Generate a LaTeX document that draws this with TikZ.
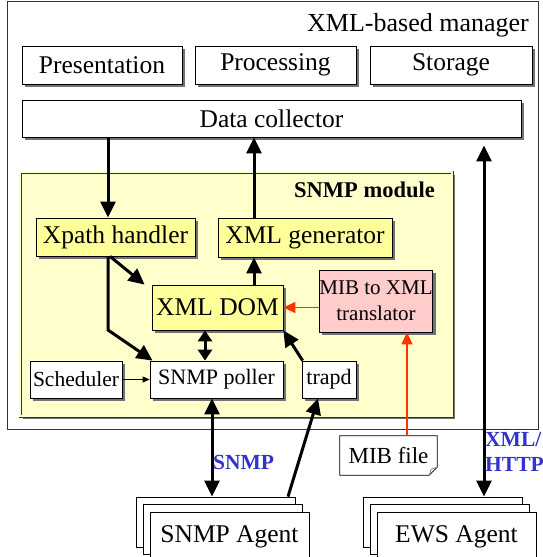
\documentclass[tikz,border=0pt]{standalone}
\usepackage{fontspec}
\setmainfont{Liberation Serif}
\usetikzlibrary{arrows.meta,shadows}

\definecolor{modfill}{HTML}{FFFFCC}
\definecolor{boxfill}{HTML}{FFFF99}
\definecolor{pinkfill}{HTML}{FFCCCC}
\definecolor{mibred}{HTML}{FF3300}
\definecolor{lblue}{HTML}{3333CC}

\tikzset{
  shad/.style={preaction={fill=black!55, transform canvas={shift={(3pt,-3pt)}}}},
  blk/.style={draw, fill=white, line width=0.8pt, inner sep=0pt, shad,
    font=\fontsize{25.5}{27}\selectfont},
  ybox/.style={blk, fill=boxfill},
  sbox/.style={blk, font=\fontsize{22}{24}\selectfont},
  agent/.style={draw, fill=white, line width=0.8pt, inner sep=0pt,
    font=\fontsize{25.5}{27}\selectfont,
    double copy shadow={shadow xshift=-7pt, shadow yshift=7.5pt}},
  arr/.style={line width=3pt, -{Triangle[length=16pt,width=15pt]}},
  darr/.style={line width=3pt, {Triangle[length=16pt,width=15pt]}-{Triangle[length=16pt,width=15pt]}},
  sdarr/.style={line width=3pt, {Triangle[length=11pt,width=14pt]}-{Triangle[length=11pt,width=14pt]}},
  redarr/.style={mibred, line width=1.5pt, -{Triangle[length=12pt,width=11pt]}},
  lbl/.style={lblue, font=\fontsize{21.5}{25}\selectfont\bfseries, inner sep=0pt}
}

\begin{document}
\begin{tikzpicture}[x=1pt, y=-1pt]
        \useasboundingbox (0,0) rectangle (543,557);

        % manager
        \draw[black!80, line width=0.8pt] (7,1) rectangle (538,429);
        \node[anchor=east, inner sep=0pt, font=\fontsize{26}{28}\selectfont] at (529,25)(mgr){XML-based manager};

        \node[blk, minimum width=160pt, minimum height=38pt] at (102,65)(pres){Presentation};
        \node[blk, minimum width=161pt, minimum height=38pt] at (275.5,65)(proc){Processing};
        \node[blk, minimum width=162pt, minimum height=38pt] at (451,65)(stor){Storage};
        \node[blk, minimum width=499pt, minimum height=37pt] at (271.5,118.5)(dc){Data collector};

        % SNMP module
        \node[draw=black!80, fill=modfill, line width=0.7pt, double=modfill, double distance=1.6pt,
          minimum width=432pt, minimum height=244pt, shad]
          at (236,294)(mod){};
        \node[anchor=east, inner sep=0pt, font=\fontsize{22.5}{24}\selectfont\bfseries] at (435,190)(modname){SNMP module};

        \node[ybox, minimum width=159pt, minimum height=38pt] at (115.5,237)(xpath){Xpath handler};
        \node[ybox, minimum width=174pt, minimum height=39pt] at (305,237.5)(xmlgen){XML generator};
        \node[ybox, minimum width=131pt, minimum height=45pt] at (217.5,307.5)(dom){XML DOM};
        \node[sbox, fill=pinkfill, minimum width=104pt, minimum height=62pt, align=center,
          font=\fontsize{21}{26}\selectfont] at (376,301)(mib2xml){MIB to XML\\translator};
        \node[sbox, minimum width=92pt, minimum height=37pt, font=\fontsize{21.5}{24}\selectfont] at (76,379.5)(sched){Scheduler};
        \node[sbox, minimum width=133pt, minimum height=37pt] at (216.5,379.5)(poller){SNMP poller};
        \node[sbox, minimum width=54pt, minimum height=37pt] at (329,379.5)(trapd){trapd};

        % MIB file with folded corner
        \node[inner sep=0pt, minimum width=97pt, minimum height=39pt, font=\fontsize{23}{25}\selectfont]
          at (388.5,455.5)(mibfile){MIB file};
        \draw[line width=0.8pt, fill=white] (mibfile.north west) -- (mibfile.north east)
          -- ([yshift=8pt]mibfile.south east) -- ([xshift=-8pt]mibfile.south east)
          -- (mibfile.south west) -- cycle;
        \draw[gray, line width=0.8pt] ([xshift=-8pt]mibfile.south east) -- ([xshift=-6pt, yshift=6pt]mibfile.south east)
          -- ([yshift=8pt]mibfile.south east);
        \node[inner sep=0pt, font=\fontsize{23}{25}\selectfont] at (mibfile){MIB file};

        % agents
        \node[agent, minimum width=159pt, minimum height=50pt] at (229.5,537)(snmpag){SNMP Agent};
        \node[agent, minimum width=159pt, minimum height=50pt] at (456.5,537)(ewsag){EWS Agent};

        % connectors
        \draw[arr] (dc.south -| 108,0) -- (xpath.north -| 108,0);
        \draw[arr] (xmlgen.north -| 254,0) -- (dc.south -| 254,0);
        \draw[darr] ([yshift=15pt]ewsag.north -| 484,0) -- ([yshift=-8pt]dc.south -| 484,0);
        \draw[arr] (xpath.south -| 110,0) -- ([xshift=-7pt]dom.north west);
        \draw[arr] (xpath.south -| 108,0) -- (108,330) -- ([xshift=3pt]poller.north west);
        \draw[sdarr] (dom.south -| 205,0) -- (poller.north -| 205,0);
        \draw[arr] (dom.north -| 254,0) -- (xmlgen.south -| 254,0);
        \draw[arr] ([xshift=1pt]trapd.north west) -- (dom.south east);
        \draw[redarr] (mib2xml.west |- dom.east) -- (dom.east);
        \draw[line width=0.8pt, -{Triangle[length=7pt,width=6pt]}] (sched.east) -- (poller.west);
        \draw[darr] (poller.south -| 212,0) -- ([yshift=15pt]snmpag.north -| 212,0);
        \draw[arr] ([yshift=15pt]snmpag.north -| 288,0) -- (trapd.south -| 318,0);
        \draw[redarr] (mibfile.north -| 407,0) -- (mib2xml.south -| 407,0);

        \node[lbl, anchor=west] at (213,462)(snmplbl){SNMP};
        \node[lbl, anchor=north west, align=left] at (485,432)(httplbl){XML/\\HTTP};
    \end{tikzpicture}
\end{document}
